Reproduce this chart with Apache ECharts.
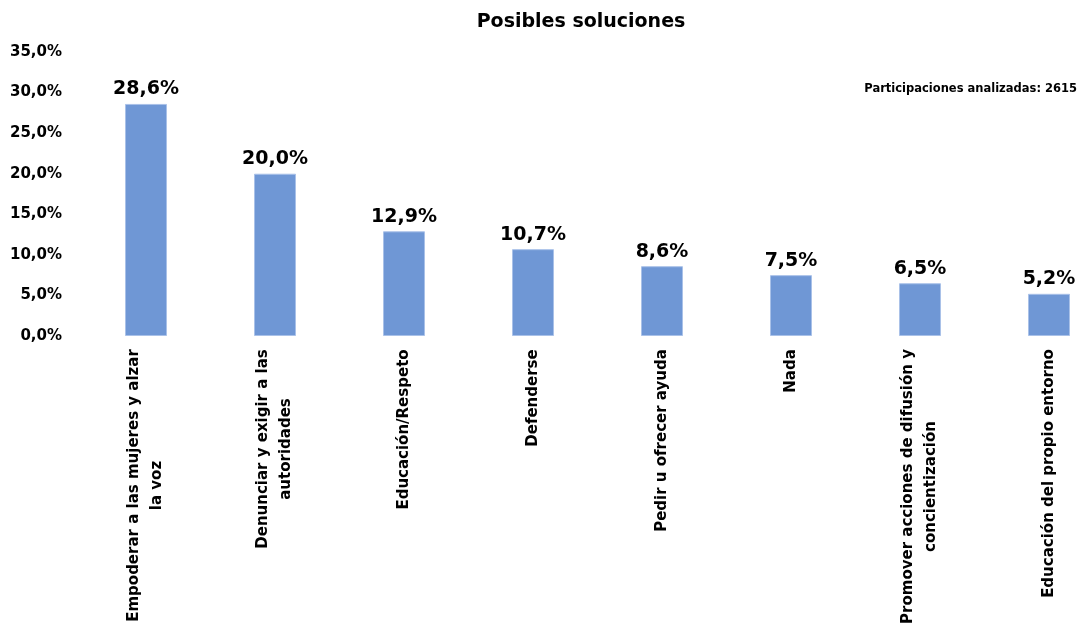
<!DOCTYPE html>
<html>
<head>
<meta charset="utf-8">
<script src="https://cdn.jsdelivr.net/npm/echarts@6/dist/echarts.min.js"></script>
<style>
  html, body { margin: 0; padding: 0; background: #ffffff; }
  #chart { width: 1088px; height: 628px; }
</style>
</head>
<body>
<div id="chart"></div>
<script>
// Categories (lines split where the label wraps)
const categories = [
  ['Empoderar a las mujeres y alzar', 'la voz'],
  ['Denunciar y exigir a las', 'autoridades'],
  ['Educación/Respeto'],
  ['Defenderse'],
  ['Pedir u ofrecer ayuda'],
  ['Nada'],
  ['Promover acciones de difusión y', 'concientización'],
  ['Educación del propio entorno']
];
// Share of participations, in percent
const values = [28.6, 20.0, 12.9, 10.7, 8.6, 7.5, 6.5, 5.2];
const yTicks = { min: 0, max: 35, interval: 5 };
const titleText = 'Posibles soluciones';
const noteText = 'Participaciones analizadas: 2615';

const FONT = '"DejaVu Sans", sans-serif';
const fmt = v => v.toFixed(1).replace('.', ',') + '%';

// Measure label lines so multi-line labels can be centred within their block
const ctx = document.createElement('canvas').getContext('2d');
const catFontSize = 15;
ctx.font = 'bold ' + catFontSize + 'px "DejaVu Sans"';
const labelWidths = categories.map(lines => Math.ceil(Math.max(...lines.map(l => ctx.measureText(l).width))) + 2);
const catNames = categories.map(lines => lines.join('\n'));

const chart = echarts.init(document.getElementById('chart'), null, { renderer: 'canvas' });
chart.setOption({
  animation: false,
  backgroundColor: '#ffffff',
  title: [{
    text: titleText,
    left: 576,
    textAlign: 'center',
    top: 8,
    textStyle: { fontFamily: FONT, fontWeight: 'bold', fontSize: 19, color: '#000' }
  }, {
    text: noteText,
    right: 6,
    top: 78,
    textStyle: { fontFamily: FONT, fontWeight: 'bold', fontSize: 11.5, color: '#000' }
  }],
  // Category ticks sit on the grid edges so the first and last bars line up with them
  grid: { left: 146, top: 52, width: 903, height: 284, containLabel: false },
  xAxis: {
    type: 'category',
    data: catNames,
    boundaryGap: false,
    axisLine: { show: false },
    axisTick: { show: false },
    axisLabel: {
      interval: 0,
      rotate: 90,
      margin: 12,
      color: '#000',
      fontFamily: FONT,
      fontWeight: 'bold',
      fontSize: catFontSize,
      lineHeight: 23,
      formatter: (val, idx) => {
        const lines = val.split('\n');
        return lines.map(l => '{c' + idx + '|' + l + '}').join('\n');
      },
      rich: Object.fromEntries(labelWidths.map((w, i) => ['c' + i, {
        width: w, align: 'center', fontFamily: FONT, fontWeight: 'bold',
        fontSize: catFontSize, lineHeight: 23, color: '#000'
      }]))
    }
  },
  yAxis: {
    type: 'value',
    min: yTicks.min,
    max: yTicks.max,
    interval: yTicks.interval,
    splitLine: { show: false },
    axisLine: { show: false },
    axisTick: { show: false },
    axisLabel: {
      margin: 84,
      color: '#000',
      fontFamily: FONT,
      fontWeight: 'bold',
      fontSize: 15,
      formatter: v => fmt(v)
    }
  },
  series: [{
    type: 'bar',
    data: values,
    barWidth: 42,
    itemStyle: { color: '#6f97d5', borderColor: '#a9c1e8', borderWidth: 1 },
    label: {
      show: true,
      position: 'top',
      distance: 5,
      color: '#000',
      fontFamily: FONT,
      fontWeight: 'bold',
      fontSize: 19,
      formatter: p => fmt(p.value)
    }
  }]
});
</script>
</body>
</html>
